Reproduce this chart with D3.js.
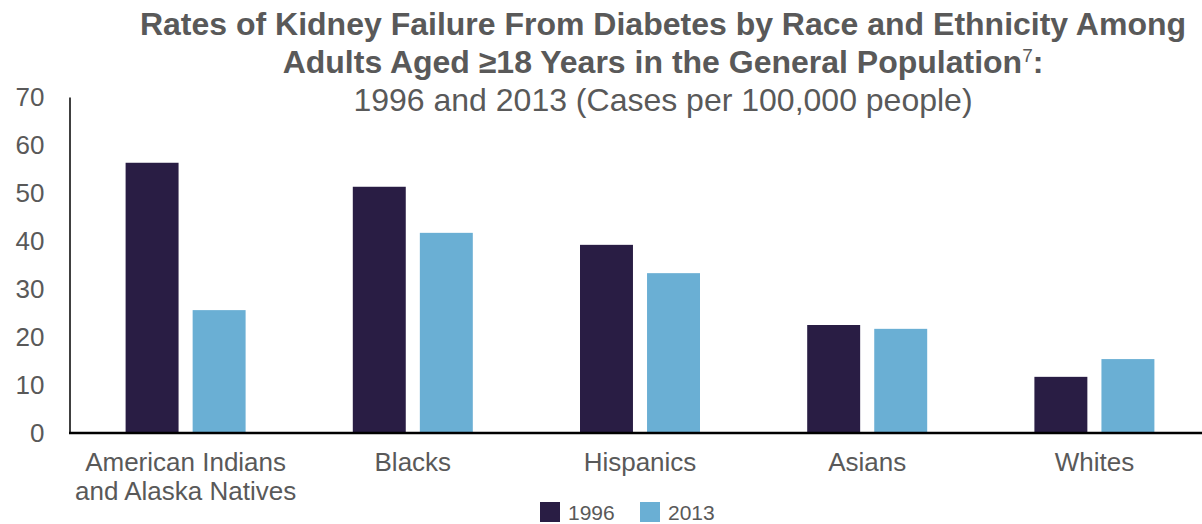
<!DOCTYPE html>
<html>
<head>
<meta charset="utf-8">
<script src="https://cdn.jsdelivr.net/npm/d3@7"></script>
<style>
	html, body { margin: 0; padding: 0; background: #fff; }
	svg { display: block; font-family: Arial, "Liberation Sans", sans-serif; }
</style>
</head>
<body>
<div id="chart"></div>
<script>

// DATA

const categories = ['American Indians and Alaska Natives', 'Blacks', 'Hispanics', 'Asians', 'Whites'],
			categoryLines = [['American Indians', 'and Alaska Natives'], ['Blacks'], ['Hispanics'], ['Asians'], ['Whites']],
			series = ['1996', '2013'],
			values1996 = [56.3, 51.3, 39.2, 22.5, 11.7],
			values2013 = [25.6, 41.7, 33.3, 21.7, 15.4],
			yTicks = [0, 10, 20, 30, 40, 50, 60, 70];

const titleLines = [
	'Rates of Kidney Failure From Diabetes by Race and Ethnicity Among',
	'Adults Aged \u226518 Years in the General Population'
],
			subtitle = '1996 and 2013 (Cases per 100,000 people)';

// CHART

const width = 1202,
			height = 524,
			textColor = '#595959',
			colors = ['#291d44', '#6aafd4'];

const data = categories.map((c, i) => ({
	category: c,
	lines: categoryLines[i],
	values: [
		{ key: series[0], value: values1996[i] },
		{ key: series[1], value: values2013[i] }
	]
}));

const svg = d3.select('#chart')
	.append('svg')
	.attr('width', width)
	.attr('height', height);

const x0 = d3.scaleBand()
	.domain(categories)
	.range([72, 1208])
	.padding(0);

const groupWidth = 120;

const x1 = d3.scaleBand()
	.domain(series)
	.range([(x0.bandwidth() - groupWidth) / 2, (x0.bandwidth() + groupWidth) / 2])
	.paddingInner(0.21);

const color = d3.scaleOrdinal()
	.domain(series)
	.range(colors);

const y = d3.scaleLinear()
	.domain([0, 70])
	.range([433, 97]);

// title
const title = svg.append('text')
	.attr('text-anchor', 'middle')
	.attr('fill', textColor);

title.append('tspan')
	.attr('x', 663)
	.attr('y', 35)
	.attr('font-weight', 'bold')
	.attr('font-size', 32)
	.text(titleLines[0]);

title.append('tspan')
	.attr('x', 663)
	.attr('y', 73)
	.attr('font-weight', 'bold')
	.attr('font-size', 32)
	.text(titleLines[1]);

title.append('tspan')
	.attr('font-size', 19)
	.attr('dy', -11)
	.text('7');

title.append('tspan')
	.attr('font-weight', 'bold')
	.attr('font-size', 32)
	.attr('dy', 11)
	.text(':');

svg.append('text')
	.attr('x', 663)
	.attr('y', 111)
	.attr('text-anchor', 'middle')
	.attr('fill', textColor)
	.attr('font-size', 32)
	.text(subtitle);

// y axis
const yAxis = svg.append('g')
	.attr('transform', 'translate(69.5,0)')
	.call(d3.axisLeft(y).tickValues(yTicks).tickSize(0).tickSizeOuter(0).tickPadding(25));

yAxis.select('.domain')
	.attr('stroke', '#000')
	.attr('stroke-width', 1.5);

yAxis.selectAll('.tick text')
	.attr('fill', textColor)
	.attr('font-size', 26)
	.attr('font-family', null);

// bars
const groups = svg.append('g')
	.selectAll('.group')
	.data(data)
	.join('g')
	.classed('group', true)
	.attr('transform', d => `translate(${x0(d.category)},0)`);

groups.selectAll('rect')
	.data(d => d.values)
	.join('rect')
	.attr('x', d => x1(d.key))
	.attr('width', x1.bandwidth())
	.attr('y', d => y(d.value))
	.attr('height', d => y(0) - y(d.value))
	.attr('fill', d => color(d.key));

// x axis
const xAxis = svg.append('g')
	.attr('transform', `translate(0,${y(0)})`)
	.call(d3.axisBottom(x0).tickSize(0).tickSizeOuter(0).tickPadding(0));

xAxis.select('.domain').remove();

xAxis.append('line')
	.attr('x1', 69)
	.attr('x2', width)
	.attr('stroke', '#000')
	.attr('stroke-width', 2.5);

xAxis.selectAll('.tick text')
	.attr('fill', textColor)
	.attr('font-size', 26)
	.attr('font-family', null)
	.attr('y', 0)
	.attr('dy', null)
	.text(null)
	.selectAll('tspan')
	.data(d => categoryLines[categories.indexOf(d)])
	.join('tspan')
	.attr('x', 0)
	.attr('y', (d, i) => 38 + i * 28.5)
	.text(d => d);

// legend
const legend = svg.append('g')
	.selectAll('.legend')
	.data(series)
	.join('g')
	.classed('legend', true)
	.attr('transform', (d, i) => `translate(${540 + i * 100},502)`);

legend.append('rect')
	.attr('width', 20)
	.attr('height', 20)
	.attr('fill', d => color(d));

legend.append('text')
	.attr('x', 28)
	.attr('y', 18)
	.attr('fill', textColor)
	.attr('font-size', 21)
	.text(d => d);

</script>
</body>
</html>
